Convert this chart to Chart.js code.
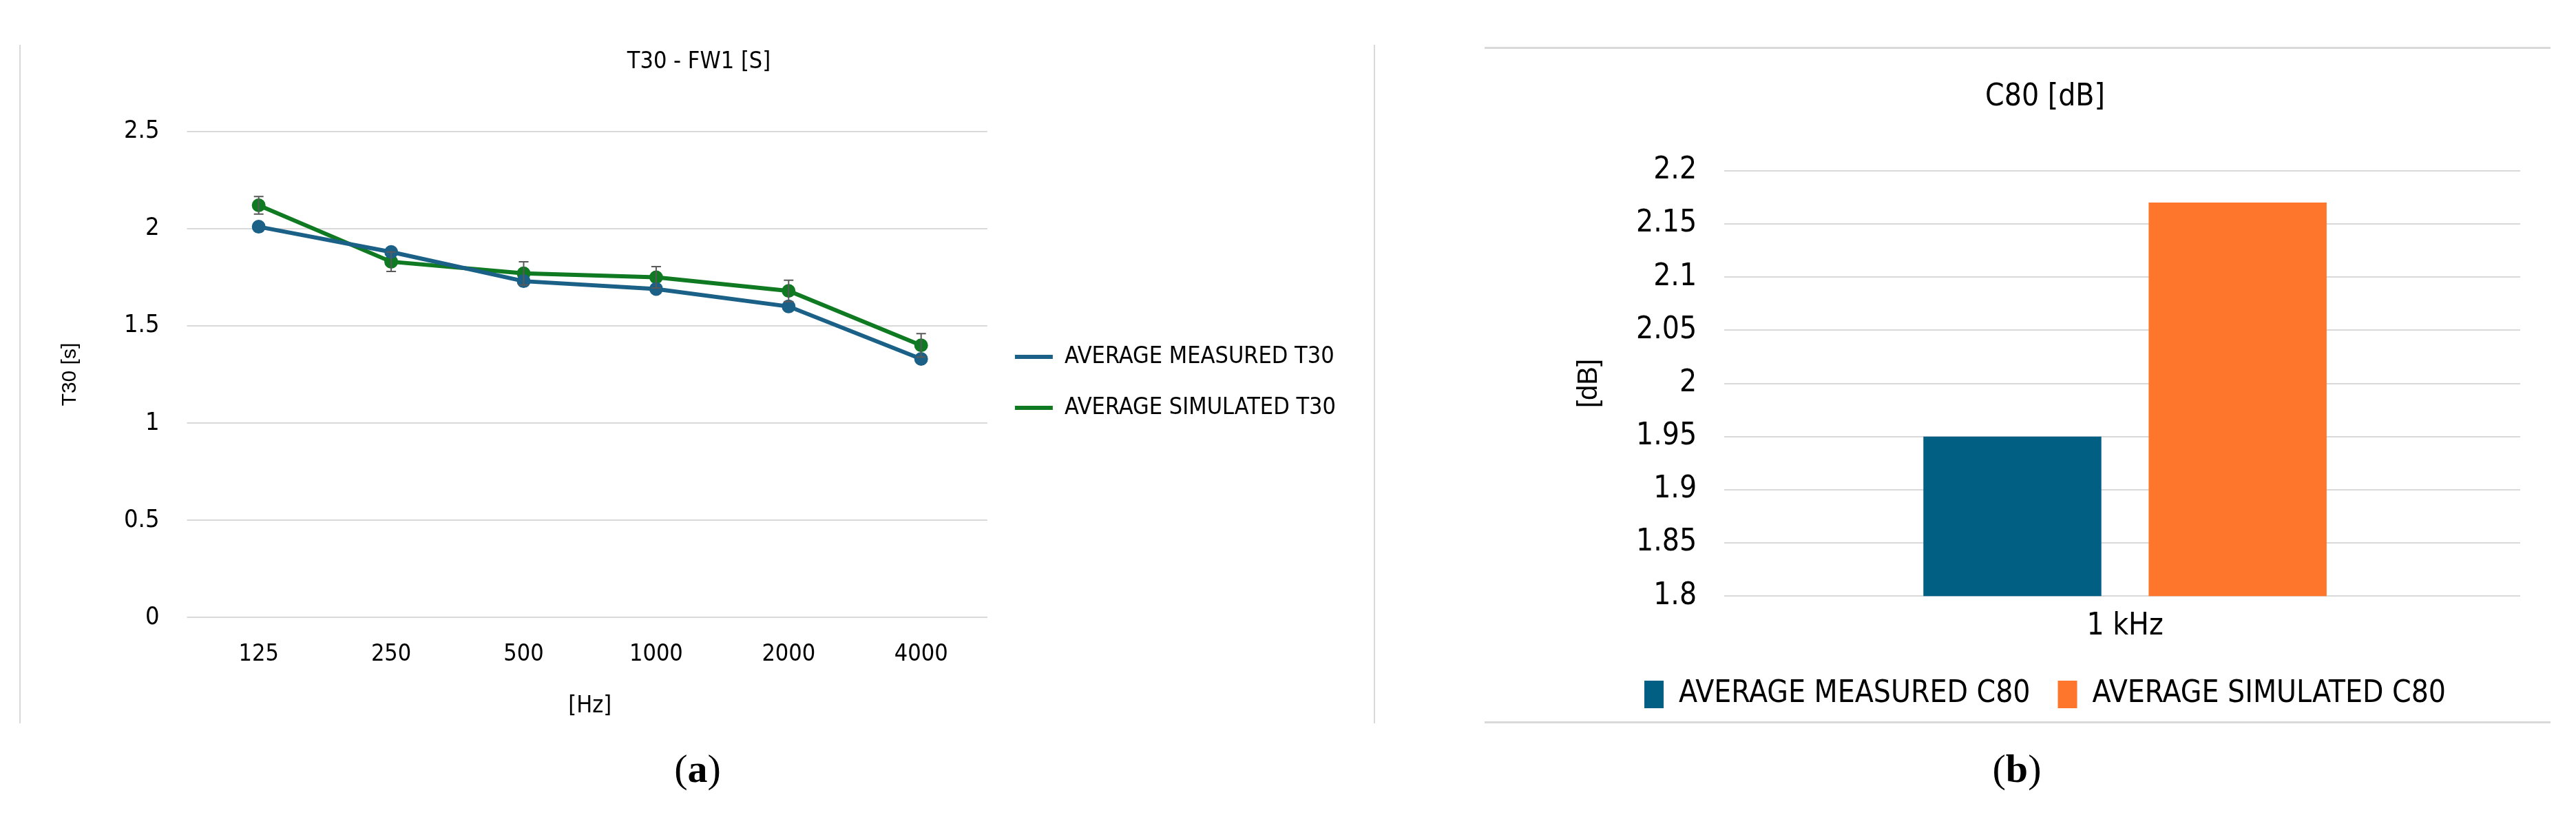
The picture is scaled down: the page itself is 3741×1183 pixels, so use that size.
<!DOCTYPE html>
<html><head><meta charset="utf-8">
<script src="https://cdn.jsdelivr.net/npm/chart.js@4"></script>
<style>
body{margin:0;width:3741px;height:1183px;background:#fff;position:relative;overflow:hidden}
.ln{position:absolute;background:#d9d9d9}
.cap{position:absolute;font-family:"Liberation Serif",serif;font-size:58px;transform:translateX(-50%)}
canvas{position:absolute}
</style></head><body>
<div class="ln" style="left:28px;top:65px;width:2px;height:985px"></div>
<div class="ln" style="left:1995px;top:65px;width:2px;height:985px"></div>
<div class="ln" style="left:2156px;top:68px;width:1548px;height:3px"></div>
<div class="ln" style="left:2156px;top:1047px;width:1548px;height:3px"></div>
<div class="cap" style="left:1013px;top:1082px">(<b>a</b>)</div>
<div class="cap" style="left:2929px;top:1082px">(<b>b</b>)</div>
<div style="position:absolute;left:40px;top:50px;width:1950px;height:1000px"><canvas id="c1"></canvas></div>
<div style="position:absolute;left:2170px;top:80px;width:1530px;height:960px"><canvas id="c2"></canvas></div>
<script>
const freqs=["125","250","500","1000","2000","4000"];
const measuredT30=[2.01,1.88,1.73,1.69,1.60,1.33];
const simulatedT30=[2.12,1.83,1.77,1.75,1.68,1.40];
const simulatedErr=[0.045,0.05,0.06,0.055,0.055,0.06];
const c80Cats=["1 kHz"];
const measuredC80=[1.95];
const simulatedC80=[2.17];
const F="'DejaVu Sans Condensed','Liberation Sans Narrow',sans-serif";
const errPlugin={id:'err',afterDatasetsDraw(ch){
  const ctx=ch.ctx,y=ch.scales.y,meta=ch.getDatasetMeta(1);
  ctx.save();ctx.strokeStyle='#595959';ctx.lineWidth=2;
  meta.data.forEach((p,i)=>{const v=simulatedT30[i],e=simulatedErr[i];
    const y1=y.getPixelForValue(v+e),y2=y.getPixelForValue(v-e);
    ctx.beginPath();ctx.moveTo(p.x,y1);ctx.lineTo(p.x,y2);
    ctx.moveTo(p.x-7,y1);ctx.lineTo(p.x+7,y1);ctx.moveTo(p.x-7,y2);ctx.lineTo(p.x+7,y2);ctx.stroke();});
  ctx.restore();}};
new Chart(document.getElementById('c1'),{type:'line',
 data:{labels:freqs,datasets:[
  {label:'AVERAGE MEASURED T30',data:measuredT30,borderColor:'#1b6187',backgroundColor:'#1b6187',borderWidth:6,pointRadius:7},
  {label:'AVERAGE SIMULATED T30',data:simulatedT30,borderColor:'#0f7a22',backgroundColor:'#0f7a22',borderWidth:6,pointRadius:7}]},
 options:{responsive:true,maintainAspectRatio:false,animation:false,
  layout:{padding:{left:40,top:10,right:40,bottom:0}},
  plugins:{title:{display:true,text:'T30 - FW1 [S]',color:'#000',font:{family:F,size:34,weight:'normal'},padding:{top:10,bottom:80}},
   legend:{position:'right',maxWidth:640,labels:{color:'#000',font:{family:F,size:34},boxWidth:55,boxHeight:6,padding:40,
     generateLabels(ch){return ch.data.datasets.map((d,i)=>({text:d.label,fillStyle:d.borderColor,strokeStyle:d.borderColor,lineWidth:0,datasetIndex:i}));}}}},
  scales:{x:{offset:true,grid:{display:false},border:{display:false},ticks:{color:'#000',font:{family:F,size:34},padding:25},
     title:{display:true,text:'[Hz]',color:'#000',font:{family:F,size:34},padding:{top:10}}},
   y:{min:0,max:2.5,ticks:{stepSize:0.5,color:'#000',font:{family:F,size:36},padding:40,callback:v=>String(+v.toFixed(1))},grid:{color:'#d9d9d9',lineWidth:2},border:{display:false},
     title:{display:true,text:'T30 [s]',color:'#000',font:{family:"'Liberation Sans',sans-serif",size:30},padding:{bottom:20}}}}},
 plugins:[errPlugin]});
new Chart(document.getElementById('c2'),{type:'bar',
 data:{labels:c80Cats,datasets:[
  {label:'AVERAGE MEASURED C80',data:measuredC80,backgroundColor:'#005f83'},
  {label:'AVERAGE SIMULATED C80',data:simulatedC80,backgroundColor:'#fd762b'}]},
 options:{responsive:true,maintainAspectRatio:false,animation:false,categoryPercentage:0.57,barPercentage:0.79,
  layout:{padding:{left:110,right:40,top:10,bottom:0}},
  plugins:{title:{display:true,text:'C80 [dB]',color:'#000',font:{family:F,size:44,weight:'normal'},padding:{top:25,bottom:80}},
   legend:{position:'bottom',labels:{color:'#000',font:{family:F,size:44},boxWidth:28,boxHeight:40,padding:40}}},
  scales:{x:{grid:{display:false},border:{display:false},ticks:{color:'#000',font:{family:F,size:44},padding:10}},
   y:{min:1.8,max:2.2,ticks:{stepSize:0.05,color:'#000',font:{family:F,size:44},padding:40,callback:v=>String(+v.toFixed(2))},grid:{color:'#d9d9d9',lineWidth:2},border:{display:false},
     title:{display:true,text:'[dB]',color:'#000',font:{family:"'Liberation Sans',sans-serif",size:40}}}}}});
</script></body></html>
